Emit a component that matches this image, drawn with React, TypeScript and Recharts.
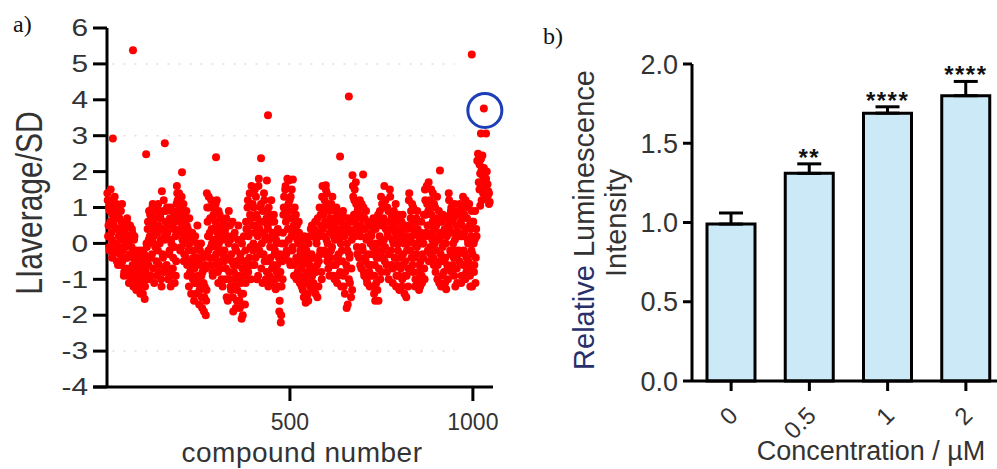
import React from 'react'
import {
  ScatterChart,
  Scatter,
  XAxis,
  YAxis,
  ReferenceLine,
  ComposedChart,
  Bar,
  Line,
  ErrorBar,
  LabelList,
  Label,
} from 'recharts'

const FONT = '"Liberation Sans", Arial, sans-serif'
const INK = '#333'
const RED = '#ff0000'

// ---- panel a: screen values, 80 compounds per block ----
// odd compounds (1, 3, 5, ...)
const odd0 = [1.4, 0.2, 1.0, -0.2, 0.6, 1.2, 0.1, 0.8, -0.3, 0.5, 1.3, 0.0, 0.7, -0.5, 0.4, 0.9, -0.1, 0.3, -0.6, 0.6, 1.1, -0.2, 0.2, -0.8, 0.4, 0.0, -0.4, 0.7, -0.9, 0.1, -0.3, 0.5, -0.7, -0.1, 0.3, -1.0, -0.4, 0.2, -0.6, -0.2]
const odd1 = [-0.8, -1.2, -0.3, -1.0, -0.6, -1.4, -0.5, -0.9, -1.1, -0.2, -0.7, -1.55, -0.4, -1.0, -0.1, 0.4, -0.6, 0.9, 0.2, -0.9, 0.6, -0.3, 1.1, 0.0, -1.1, 0.7, 0.3, -0.5, 1.0, -0.2, 0.5, -0.8, 0.8, 0.1, -1.2, 0.4, -0.4, 1.2, 0.2, -0.7]
const odd2 = [0.9, -0.6, 0.3, -1.0, 0.6, -0.2, 1.0, 0.1, -0.9, 0.5, -0.4, 0.8, -1.1, 0.2, -0.5, 1.6, 1.2, 0.7, 1.4, 0.4, 1.0, -0.1, 0.8, 0.3, 1.1, -0.3, 0.6, 0.0, 0.9, -0.6, 0.4, -0.2, 0.7, -0.8, 0.1, -0.5, 0.3, -1.0, -0.2, -0.7]
const odd3 = [0.2, -1.1, -0.4, 0.5, -0.9, -0.1, -1.3, -0.6, 0.0, -1.5, -0.8, -0.3, -1.9, -1.2, -0.7, -1.6, 1.4, 0.6, -0.2, 1.0, 0.3, -0.6, 1.2, 0.0, -0.9, 0.8, 0.4, -0.4, 1.1, -0.1, 0.5, -0.8, 0.9, 0.2, -0.5, 0.7, -1.0, 0.1, -0.3, 0.6]
const odd4 = [-0.2, 0.4, -0.7, -1.5, 0.2, -0.4, 0.9, -1.0, 0.1, -1.3, -0.5, 0.6, -1.9, -0.8, 0.3, -1.2, -0.2, -1.6, -0.6, 0.5, -1.0, -1.8, -0.3, -1.4, 0.0, -2.0, -0.9, -0.5, -1.7, -1.1, 0.4, -0.7, 1.2, 0.2, -0.4, 0.8, -1.0, 1.6, 0.5, -0.2]
const odd5 = [1.0, -0.6, 0.3, 1.3, -0.1, 0.7, -0.9, 1.8, 0.4, -0.3, 1.1, 0.0, -1.1, 0.6, 1.4, -0.5, 0.2, 0.9, -0.8, 0.5, -1.2, 0.1, 0.8, -0.4, 1.2, -0.7, 0.3, -1.0, 0.6, -0.2, -1.28, 0.0, -0.6, 0.4, -0.9, -1.9, -0.3, -2.2, -1.2, -0.5]
const odd6 = [0.3, 1.0, -0.4, 1.5, 0.6, -0.2, 1.8, 0.9, 0.1, 1.2, -0.6, 0.4, 1.5, -0.1, 0.7, -0.9, 1.0, 0.2, -0.4, 0.5, -0.8, 0.0, 0.3, -1.1, -0.3, -0.7, 0.1, -1.3, -0.5, 0.2, -1.0, -1.65, -0.2, -0.8, -1.4, 0.0, -0.6, -1.2, 0.4, -0.3]
const odd7 = [-0.9, 0.2, -1.3, -0.4, 0.6, -0.8, 0.0, -1.5, 0.3, -0.5, 1.0, -0.2, 0.5, -1.0, 1.6, 0.8, 0.2, 1.2, -0.3, 0.6, 1.4, 0.0, -0.7, 0.9, 0.3, -0.4, 1.1, -0.1, 0.5, -0.9, 0.7, 0.1, -0.6, 1.0, -1.1, 0.3, -0.3, 0.8, -0.8, 0.0]
const odd8 = [0.6, -0.5, 0.9, -1.2, 0.2, -0.8, 0.4, -1.8, -0.2, 0.7, -1.0, -0.4, 0.3, -1.5, 0.1, 1.9, 1.3, 0.8, 1.5, 0.4, 1.1, -0.1, 0.9, 0.5, -0.4, 1.2, 0.2, -0.7, 0.7, -0.2, 1.0, -0.9, 0.4, -0.5, 0.1, -1.1, 0.6, -0.3, -0.8, 0.2]
const odd9 = [-0.6, 0.3, -1.2, -0.1, 0.5, -0.9, -1.6, 0.0, -0.4, -1.3, 0.8, -0.7, 0.2, -1.0, 1.3, 0.5, -0.2, 1.0, 0.1, -0.5, 1.2, 0.6, -0.8, 0.3, 0.9, -0.3, 1.5, 0.4, -0.6, 0.7, -1.1, 0.0, 0.5, -0.4, 1.1, -0.9, 0.2, -0.2, 0.8, -1.3]
const odd10 = [0.1, -0.7, 0.6, -1.0, -0.3, 0.4, -1.4, -0.5, 0.2, -0.9, 0.0, -1.2, 1.2, 0.5, -0.2, 0.9, 0.2, -0.6, 1.0, -0.4, 0.3, -1.0, 0.7, -0.1, 0.4, -0.8, -1.3, 0.1, -0.5, 0.6, -1.1, -0.3, 0.0, -0.7, 1.5, 0.8, 0.3, 1.1, -0.2, 1.7]
const odd11 = [0.5, 1.2, -0.3, 0.8, 0.1, 1.4, -0.6, 0.4, 1.0, -0.2, 0.7, -1.0, 0.2, 0.9, -0.5, 0.3, -1.2, 0.6, -0.1, 0.0, -0.8, 0.4, -0.4, -1.28, 0.2, -0.7, 0.5, 1.2, 0.8, -0.3, 1.0, 0.3, -0.6, 0.7, -0.9, 0.1, -0.2, 0.5, -1.1, 0.9]
const odd12 = [0.3, -0.5, 1.1, 0.6, -0.9, 0.2, 1.3, -0.2, 0.8, -1.0, 0.4, -0.4, 1.0, 0.0, -0.7, 0.5, -1.2, 0.2, 0.9, -0.3, 0.6, -0.8, 0.1, -1.1, 0.4]
// even compounds (2, 4, 6, ...)
const even0 = [1.2, 0.5, -0.1, 0.9, 1.5, 0.3, -0.4, 0.6, 1.0, 0.0, 0.8, -0.2, 1.1, 0.4, -0.6, 0.2, 0.7, -0.3, 0.9, 0.1, -0.5, 0.5, -0.9, 0.3, -0.1, -0.7, 0.6, -0.4, 0.0, -1.1, 0.2, -0.8, -0.3, 0.4, -0.6, -1.2, 0.1, -0.9, -0.4, -1.3]
const even1 = [-1.0, -0.5, -1.3, -0.7, -0.2, -1.1, -0.9, -0.4, -1.4, -0.6, -0.3, -1.2, -0.8, 0.0, -0.5, 0.6, 0.1, -1.0, 0.8, -0.4, 0.4, 1.0, -0.7, 0.2, 0.9, -0.1, 0.5, -0.9, 0.3, 1.1, -0.6, 0.0, 0.7, -1.0, 0.4, -0.3, 0.9, -0.8, 0.1, 0.6]
const even2 = [0.2, 1.0, -0.8, 0.5, -0.3, 0.7, -1.2, 0.0, 0.9, -0.7, 0.4, -0.1, 0.6, -0.9, 1.1, 1.4, 0.9, 0.3, 1.1, -0.2, 0.6, 1.3, 0.1, 0.5, -0.5, 0.8, 0.2, -0.4, 0.5, -0.9, 0.3, -1.2, 0.0, -0.6, -1.4, 0.2, -0.9, -0.4, -1.6, -1.1]
const even3 = [-0.6, -1.4, 0.0, -1.0, -0.5, -1.7, -0.2, -1.2, -0.9, -1.8, -0.4, -1.1, -1.5, -0.6, -2.0, -1.3, 1.0, 0.2, 1.3, -0.4, 0.7, -0.1, 0.4, -0.8, 1.0, 0.1, -0.6, 0.6, -0.3, 1.2, 0.3, -1.1, 0.0, 0.8, -0.7, 0.4, -0.2, -1.2, 0.5, -0.5]
const even4 = [0.3, -1.0, 0.7, -0.4, -1.6, 0.0, -0.8, 0.5, -1.2, -0.3, 0.2, -1.5, -0.6, -1.0, -0.1, -1.8, -0.5, -1.3, 0.1, -0.9, -1.6, -0.4, -1.1, -2.1, -0.7, -1.4, 0.2, -0.9, -0.2, 0.6, -0.5, 1.0, -0.8, 0.3, 1.4, -0.1, 0.7, -0.6, 1.1, 0.0]
const even5 = [0.5, 1.5, -0.4, 0.8, -1.0, 0.2, 1.6, -0.2, 0.6, 1.0, -0.7, 0.3, 0.9, -0.3, 1.2, 0.1, -1.0, 0.7, -0.5, 0.4, 1.0, -0.9, -0.1, 0.6, -1.1, 0.2, -0.6, 0.8, -0.3, -1.0, 0.1, -0.8, 0.3, -1.2, -0.4, -1.6, -0.8, -2.0, 0.0, -1.0]
const even6 = [0.8, 1.3, 0.0, 1.6, -0.3, 0.9, 0.4, 1.1, -0.5, 0.7, 1.3, 0.2, -0.2, 0.9, 0.5, -0.6, 0.3, 0.8, -1.0, 0.1, -0.5, 0.6, -0.9, -0.2, 0.2, -1.2, -0.6, -0.1, -1.5, -0.9, -0.3, -1.1, 0.1, -0.5, -1.6, -0.8, 0.2, -1.0, -0.4, 0.5]
const even7 = [-0.4, -1.1, 0.4, -0.7, -1.4, 0.1, -0.6, 0.7, -1.2, 0.2, -0.3, 0.8, -0.8, 1.3, 0.4, 1.0, -0.2, 0.6, 1.5, 0.1, -0.5, 1.1, 0.5, -0.9, 0.7, -0.2, 0.3, 1.3, -0.6, 0.2, -1.0, 0.9, 0.4, -0.4, 0.6, -0.9, 0.1, -0.5, 0.4, -1.2]
const even8 = [-0.2, 0.8, -0.9, 0.3, -1.4, 0.5, -0.6, 0.0, -1.7, 0.4, -0.3, -1.1, 0.6, -0.7, -1.3, 1.6, 0.6, 1.2, 0.2, 1.7, 0.7, -0.3, 1.0, 0.3, 0.8, -0.6, 0.5, 1.1, -0.1, 0.4, -0.8, 0.7, -0.4, 0.9, -1.0, 0.2, -0.6, 0.5, -1.2, 0.0]
const even9 = [0.2, -0.9, -0.3, 0.7, -1.4, -0.6, 0.4, -1.1, -0.2, 0.6, -1.6, -0.4, 0.9, 0.0, -0.8, 1.1, -0.4, 0.7, 1.6, -0.1, 0.4, -0.6, 1.0, 0.2, -1.0, 0.6, 1.3, -0.2, 0.8, 0.1, -0.7, 0.9, -0.4, 0.3, -1.2, 0.6, -0.6, 0.0, -0.9, 0.4]
const even10 = [-0.4, 0.3, -1.2, 0.8, -0.6, 0.0, -0.9, 0.5, -1.5, -0.2, 0.4, -0.7, 1.4, 0.1, 0.7, -0.4, 1.1, -0.8, 0.4, 0.0, -1.2, 0.6, -0.3, 0.9, -1.0, 0.2, -0.6, -1.2, 0.3, -0.9, 0.0, -0.4, 0.8, -1.0, 1.2, 0.2, 1.6, 0.5, 0.9, -0.5]
const even11 = [1.0, -0.1, 1.5, 0.3, 0.6, -0.4, 1.1, 0.0, -0.8, 0.5, 1.3, -0.6, 0.1, -1.1, 0.6, -0.3, 0.2, -0.9, 0.8, -0.5, 0.3, -1.1, 0.0, 0.7, -0.6, -1.0, 1.4, 0.4, -0.2, 0.9, -0.8, 0.6, 0.0, -0.4, 1.1, -1.2, 0.3, -0.7, 0.8, -0.3]
const even12 = [-0.2, 0.8, 0.2, -1.1, 0.5, 1.0, -0.6, 0.3, -0.3, 1.2, -0.8, 0.7, 0.1, -0.5, 1.1, -0.9, 0.4, -0.2, -1.2, 0.6, 0.0, -0.6, 0.9, -0.4, 0.2]

const oddBlocks = [odd0, odd1, odd2, odd3, odd4, odd5, odd6, odd7, odd8, odd9, odd10, odd11, odd12]
const evenBlocks = [even0, even1, even2, even3, even4, even5, even6, even7, even8, even9, even10, even11, even12]
const blockFirstCompound = [1, 81, 161, 241, 321, 401, 481, 561, 641, 721, 801, 881, 961]

// [compound, value] for points off the main band
const hits: [number, number][] = [
  [16, 2.92], [71, 5.38], [107, 2.48], [150, 1.45], [158, 2.79], [205, 1.98], [298, 2.4],
  [421, 2.37], [437, 1.75], [440, 3.57], [497, 1.75], [508, 1.78], [598, 1.62], [637, 2.42],
  [661, 4.09], [700, 1.92], [910, 2.03], [997, 5.26], [1022, 3.06], [1036, 3.06],
]
const lastPlate: [number, number][] = [
  [1014, 2.5], [1018, 2.2], [1022, 2.35], [1026, 1.9], [1016, 1.7], [1030, 2.1], [1034, 1.6],
  [1020, 1.95], [1028, 1.4], [1036, 1.8], [1024, 1.2], [1032, 1.55], [1040, 1.3], [1038, 2.0],
  [1044, 1.1], [1042, 1.45], [1020, 1.05], [1046, 1.15], [1012, 2.3], [1026, 2.45], [1030, 1.75],
  [1018, 1.5], [1034, 1.25], [1040, 1.65], [1024, 2.05], [1044, 1.4],
]
const selected: [number, number][] = [[1030, 3.76]]

const yTicksA = [-4, -3, -2, -1, 0, 1, 2, 3, 4, 5, 6]
const xTicksA = [500, 1000]

// ---- panel b ----
const concentrations = ['0', '0.5', '1', '2']
const lumMean = [0.99, 1.31, 1.69, 1.8]
const lumErr = [0.07, 0.06, 0.04, 0.09]
const lumStars = ['', '**', '****', '****']
const yTicksB = [0, 0.5, 1, 1.5, 2]

const toBand = (blocks: number[][], offset: number) =>
  blocks.flatMap((vals, b) => vals.map((y, i) => ({ x: blockFirstCompound[b] + offset + 2 * i, y })))
const bandPoints = [...toBand(oddBlocks, 0), ...toBand(evenBlocks, 1)]
const toPts = (arr: [number, number][]) => arr.map(([x, y]) => ({ x, y }))

const barData = concentrations.map((c, i) => ({
  conc: c,
  mean: lumMean[i],
  err: [0, lumErr[i]],
  cap: lumMean[i] + lumErr[i],
  stars: lumStars[i],
}))

const axisStyle = { stroke: '#000', strokeWidth: 3 }

const Dot = (p: any) => <circle cx={p.cx} cy={p.cy} r={4} fill={RED} />
const Circled = (p: any) => (
  <g>
    <circle cx={p.cx} cy={p.cy} r={4} fill={RED} />
    <circle cx={p.cx + 1} cy={p.cy + 2} r={17} fill="none" stroke="#1c3fb8" strokeWidth={3} />
  </g>
)

const YTickA = (p: any) => (
  <text transform={`translate(${p.x - 3},${p.y}) scale(1.3,1)`} textAnchor="end" dy="0.36em" fontSize={23} fill={INK} fontFamily={FONT}>
    {p.payload.value}
  </text>
)
const XTickA = (p: any) => (
  <text x={p.x} y={p.y} dy={27} textAnchor="middle" fontSize={23} fill={INK} fontFamily={FONT}>
    {p.payload.value}
  </text>
)
const YTickB = (p: any) => (
  <text x={p.x - 3} y={p.y} dy="0.36em" textAnchor="end" fontSize={27} fill={INK} fontFamily={FONT}>
    {p.payload.value.toFixed(1)}
  </text>
)
const XTickB = (p: any) => (
  <text transform={`translate(${p.x + 8},${p.y + 24}) rotate(-45)`} textAnchor="end" fontSize={24} fill={INK} fontFamily={FONT}>
    {p.payload.value}
  </text>
)

export default function App() {
  return (
    <div style={{ position: 'absolute', left: 0, top: 0, width: 997, height: 469, overflow: 'hidden', background: '#fff' }}>
      <svg width={997} height={469} style={{ position: 'absolute', left: 0, top: 0 }}>
        <text x={13} y={32} fontSize={24} fontFamily='"Liberation Serif", "Times New Roman", serif' fill="#111">a)</text>
        <text x={543} y={44} fontSize={24} fontFamily='"Liberation Serif", "Times New Roman", serif' fill="#111">b)</text>
      </svg>

      <div style={{ position: 'absolute', left: 0, top: 0 }}>
        <ScatterChart width={520} height={469} margin={{ top: 28, right: 27, bottom: 52, left: 47 }}>
          <XAxis
            type="number"
            dataKey="x"
            domain={[0, 1055]}
            ticks={xTicksA}
            tickSize={14}
            axisLine={axisStyle}
            tickLine={axisStyle}
            tick={<XTickA />}
          >
            <Label
              content={() => (
                <text x={302} y={462} textAnchor="middle" fontSize={28} fill={INK} fontFamily={FONT} letterSpacing={0.5}>
                  compound number
                </text>
              )}
            />
          </XAxis>
          <YAxis
            type="number"
            dataKey="y"
            domain={[-4, 6]}
            ticks={yTicksA}
            interval={0}
            tickSize={14}
            axisLine={axisStyle}
            tickLine={axisStyle}
            tick={<YTickA />}
          >
            <Label
              content={() => (
                <text transform="translate(42,203) rotate(-90) scale(1,1.26)" textAnchor="middle" fontSize={30} fill={INK} fontFamily={FONT}>
                  LIaverage/SD
                </text>
              )}
            />
          </YAxis>
          {[5, 3, -3].map((v) => (
            <ReferenceLine
              key={v}
              segment={[{ x: 15, y: v }, { x: 950, y: v }]}
              stroke="#e9d9d9"
              strokeWidth={1.5}
              strokeDasharray="2 9"
            />
          ))}
          <ReferenceLine segment={[{ x: -38, y: -4 }, { x: 0, y: -4 }]} ifOverflow="visible" stroke="#000" strokeWidth={3} />
          <Scatter data={bandPoints} shape={<Dot />} isAnimationActive={false} />
          <Scatter data={toPts(lastPlate)} shape={<Dot />} isAnimationActive={false} />
          <Scatter data={toPts(hits)} shape={<Dot />} isAnimationActive={false} />
          <Scatter data={toPts(selected)} shape={<Circled />} isAnimationActive={false} />
        </ScatterChart>
      </div>

      <div style={{ position: 'absolute', left: 530, top: 0 }}>
        <ComposedChart width={480} height={469} data={barData} margin={{ top: 64, right: 5, bottom: 58, left: 102 }}>
          <XAxis
            dataKey="conc"
            tickSize={10}
            axisLine={axisStyle}
            tickLine={axisStyle}
            tick={<XTickB />}
            interval={0}
          >
            <Label
              content={() => (
                <text x={341} y={460} textAnchor="middle" fontSize={27} fill={INK} fontFamily={FONT}>
                  Concentration / µM
                </text>
              )}
            />
          </XAxis>
          <YAxis
            domain={[0, 2]}
            ticks={yTicksB}
            interval={0}
            tickSize={9}
            axisLine={axisStyle}
            tickLine={axisStyle}
            tick={<YTickB />}
          >
            <Label
              content={() => (
                <g fontFamily={FONT} fontSize={29} textAnchor="middle">
                  <text transform="translate(64,220) rotate(-90)">
                    <tspan fill="#27306a">Relative </tspan>
                    <tspan fill={INK}>Luminescence</tspan>
                  </text>
                  <text transform="translate(96,223) rotate(-90)" fill={INK}>
                    Intensity
                  </text>
                </g>
              )}
            />
          </YAxis>
          <Bar dataKey="mean" fill="#cce9f7" stroke="#000" strokeWidth={3} barSize={48} isAnimationActive={false}>
            <ErrorBar dataKey="err" width={12} stroke="#000" strokeWidth={3} direction="y" />
          </Bar>
          <Line dataKey="cap" stroke="none" dot={false} activeDot={false} legendType="none" isAnimationActive={false}>
            <LabelList dataKey="stars" position="top" offset={-2} fill="#111" fontSize={24} fontWeight="bold" fontFamily={FONT} letterSpacing={1.5} />
          </Line>
        </ComposedChart>
      </div>
    </div>
  )
}
